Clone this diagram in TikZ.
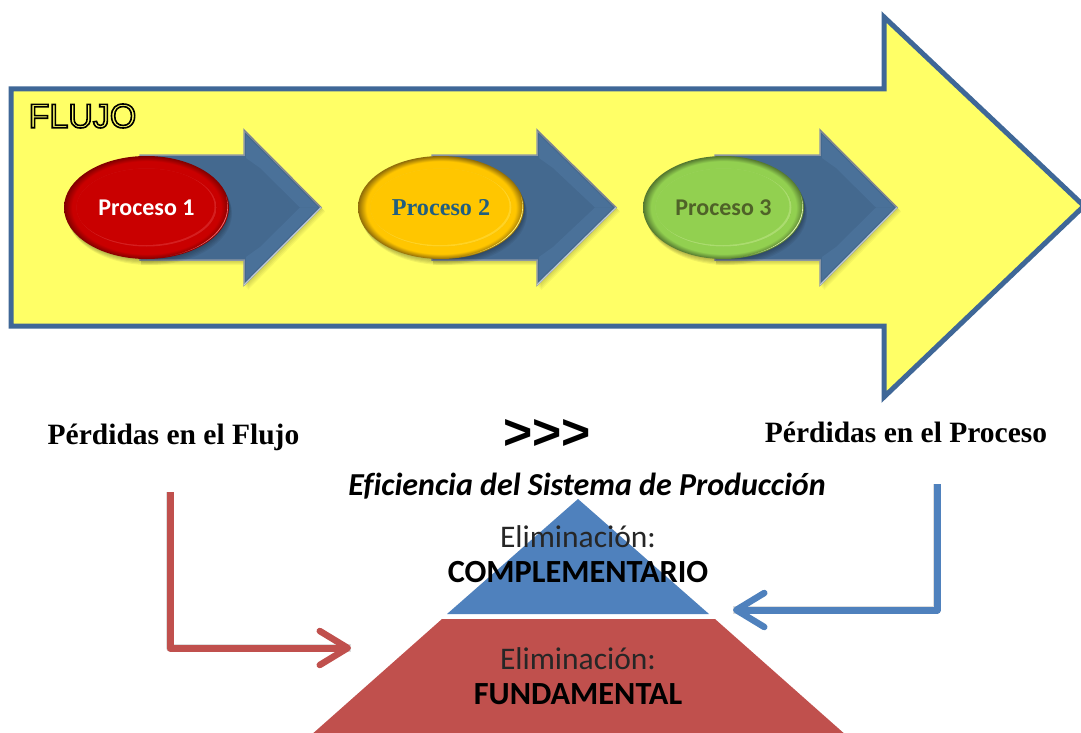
\documentclass[tikz,border=0pt]{standalone}
\usepackage{fontspec}
\setmainfont{Carlito}
\newfontfamily\serifb{Liberation Serif}
\newfontfamily\arialb{Liberation Sans}
\usetikzlibrary{arrows.meta,shapes.geometric}
\definecolor{flowyellow}{HTML}{FFFF66}
\definecolor{flowedge}{HTML}{3F6797}
\definecolor{steelblue}{HTML}{44698F}
\definecolor{steellight}{HTML}{4A7199}
\definecolor{steelrim}{HTML}{8B96A3}
\definecolor{pyrblue}{HTML}{4F81BD}
\definecolor{pyrred}{HTML}{C0504D}
\definecolor{redmain}{HTML}{C90000}
\definecolor{reddark}{HTML}{800000}
\definecolor{redlight}{HTML}{F0686A}
\definecolor{ambmain}{HTML}{FFC600}
\definecolor{ambdark}{HTML}{8F6C08}
\definecolor{amblight}{HTML}{FFF27A}
\definecolor{grnmain}{HTML}{92D050}
\definecolor{grndark}{HTML}{54782F}
\definecolor{grnlight}{HTML}{E6F8B8}
\definecolor{txtblue}{HTML}{215E7F}
\definecolor{txtgreen}{HTML}{4F6228}
\pgfdeclareradialshading{ovalred}{\pgfpointorigin}{color(0bp)=(redmain);color(22.5bp)=(redmain);color(25bp)=(reddark);color(50bp)=(reddark)}
\pgfdeclareradialshading{ovalamb}{\pgfpointorigin}{color(0bp)=(ambmain);color(22.5bp)=(ambmain);color(25bp)=(ambdark);color(50bp)=(ambdark)}
\pgfdeclareradialshading{ovalgrn}{\pgfpointorigin}{color(0bp)=(grnmain);color(22.5bp)=(grnmain);color(25bp)=(grndark);color(50bp)=(grndark)}
\newcommand{\outlinetext}[1]{\special{pdf:code q 2 Tr 1.6 w 0 0 0 RG 1 1 0.4 rg}#1\special{pdf:code 0 Tr Q}}
\tikzset{
  x=1pt,y=-1pt,
  softshade/.style={fill=black,fill opacity=0.045,draw=none},
  proclabel/.style={font=\bfseries\fontsize{24}{26}\selectfont,inner sep=0pt},
  lossline/.style={line width=7pt,line join=round,-{Straight Barb[length=28pt,width=34pt,line width=6.5pt,round]}},
  lossshade/.style={line width=8pt,line join=round,draw=black,draw opacity=0.13},
  losslabel/.style={font=\serifb\bfseries\fontsize{29.5}{32}\selectfont,inner sep=0pt,anchor=center},
  pyrlabel/.style={font=\fontsize{31.5}{34}\selectfont,inner sep=0pt,text=black!85},
  pyrbold/.style={font=\bfseries\fontsize{32.3}{36}\selectfont,inner sep=0pt,text=black}
}
% #1 left of body, #2 head x, #3 tip x
\newcommand{\steparrow}[3]{%
  \foreach \d in {1,2,3,4}{
    \fill[softshade] (#1+1,155+\d+1) -- (#2+\d,155+\d+1) -- (#2+\d,130+\d) -- (#3+\d,207.5+\d) -- (#2+\d,285+\d+1) -- (#2+\d,260+\d+1) -- (#1+1,260+\d+1) -- cycle;
  }
  \fill[steelblue,draw=steelrim,line width=1.5pt,line join=miter] (#1,155) -- (#2,155) -- (#2,130) -- (#3,207.5) -- (#2,285) -- (#2,260) -- (#1,260) -- cycle;
  \fill[steellight] (#2+2,135) -- (#3-3,207.5) -- (#3-21,207.5) -- (#2+16,168) -- (#2+2,158) -- cycle;
  \fill[steellight] (#2+2,280) -- (#3-3,207.5) -- (#3-21,207.5) -- (#2+16,247) -- (#2+2,257) -- cycle;
  \draw[black!50,line width=0.7pt] (#2,130) -- (#3,207.5);
  \draw[white!65!steelblue,line width=1pt] (#3,207.5) -- (#2,285);
}
% #1 name, #2 cx, #3 half-width, #4 shading, #5 base, #6 light, #7 label options, #8 label
\newcommand{\procoval}[8]{%
  \foreach \d in {1,2,3,4,5}{
    \fill[softshade,fill opacity=0.06] (#2+\d*0.6,207.5+\d*1.2) ellipse [x radius=#3,y radius=51.5];
  }
  \path[shading=#4] (#2,207.5) ellipse [x radius=#3,y radius=51.5];
  \begin{scope}
    \clip (#2,207.5) ellipse [x radius=#3-1,y radius=50.5];
    \fill[#6,even odd rule] (#2,207.5) ellipse [x radius=#3,y radius=52] (#2-1.5,206) ellipse [x radius=#3,y radius=52.5];
  \end{scope}
  \fill[#5!94!black] (#2,207.5) ellipse [x radius=#3-12.5,y radius=39];
  \begin{scope}
    \clip (#2,207.5) ellipse [x radius=#3-12.5,y radius=39];
    \fill[#6!30!#5] (#2,207.5) ellipse [x radius=#3-12,y radius=39];
    \fill[#5] (#2-1.5,206.5) ellipse [x radius=#3-13,y radius=38.5];
  \end{scope}
  \node[#7] (#1) at (#2,207.5) {#8};
}
\begin{document}
\begin{tikzpicture}
\useasboundingbox (0,0) rectangle (1081,733);
\fill[white] (0,0) rectangle (1081,733);
\begin{scope}
\clip (0,0) rectangle (1081,733);
\draw[fill=flowyellow,draw=flowedge,line width=5pt,line join=miter]
  (11,89) -- (884,89) -- (884,17) -- (1084,206) -- (884,397) -- (884,326) -- (11,326) -- cycle;
\end{scope}
\node[inner sep=0pt,font=\arialb\fontsize{34}{38}\selectfont] (flujo) at (82.5,116) {\outlinetext{FLUJO}};

\steparrow{140}{244}{321}
\steparrow{432}{537}{616}
\steparrow{715}{820}{897}
\procoval{p1}{146.5}{82.5}{ovalred}{redmain}{redlight}{proclabel,text=white}{Proceso 1}
\procoval{p2}{441}{83}{ovalamb}{ambmain}{amblight}{inner sep=0pt,font=\serifb\bfseries\fontsize{24.2}{26}\selectfont,text=txtblue}{Proceso 2}
\procoval{p3}{723.5}{80.5}{ovalgrn}{grnmain}{grnlight}{proclabel,text=txtgreen}{Proceso 3}

\node[losslabel] (lf) at (173.5,437) {Pérdidas en el Flujo};
\node[losslabel] (lp) at (906,432) {Pérdidas en el Proceso};
\node[inner sep=0pt,font=\arialb\bfseries\fontsize{50}{52}\selectfont] (gg) at (547,434) {>>>};
\node[inner sep=0pt,font=\bfseries\itshape\fontsize{32}{36}\selectfont\addfontfeature{Ligatures=NoCommon}] (ef) at (587,486) {Eficiencia del Sistema de Producción};

\fill[pyrblue] (578,499) -- (709,614) -- (447,614) -- cycle;
\begin{scope}
\clip (0,0) rectangle (1081,733);
\fill[pyrred] (442,619) -- (715,619) -- (847,736) -- (310,736) -- cycle;
\end{scope}
\node[pyrlabel] (e1) at (578,537) {Eliminación:};
\node[pyrbold] (c1) at (578,572) {COMPLEMENTARIO};
\node[pyrlabel] (e2) at (578,659) {Eliminación:};
\node[pyrbold] (f1) at (578,694) {FUNDAMENTAL};

\coordinate (rs) at (170,492);
\coordinate (rc) at (170,648);
\coordinate (re) at (351,648);
\coordinate (bs) at (937,484);
\coordinate (bc) at (937,610);
\coordinate (be) at (733,610);
\begin{scope}[shift={(2,3)}]
\draw[lossshade] (rs) -- (rc) -- (re);
\draw[lossshade] (bs) -- (bc) -- (be);
\end{scope}
\draw[lossline,pyrred] (rs) -- (rc) -- (re);
\draw[lossline,pyrblue] (bs) -- (bc) -- (be);
\end{tikzpicture}
\end{document}
